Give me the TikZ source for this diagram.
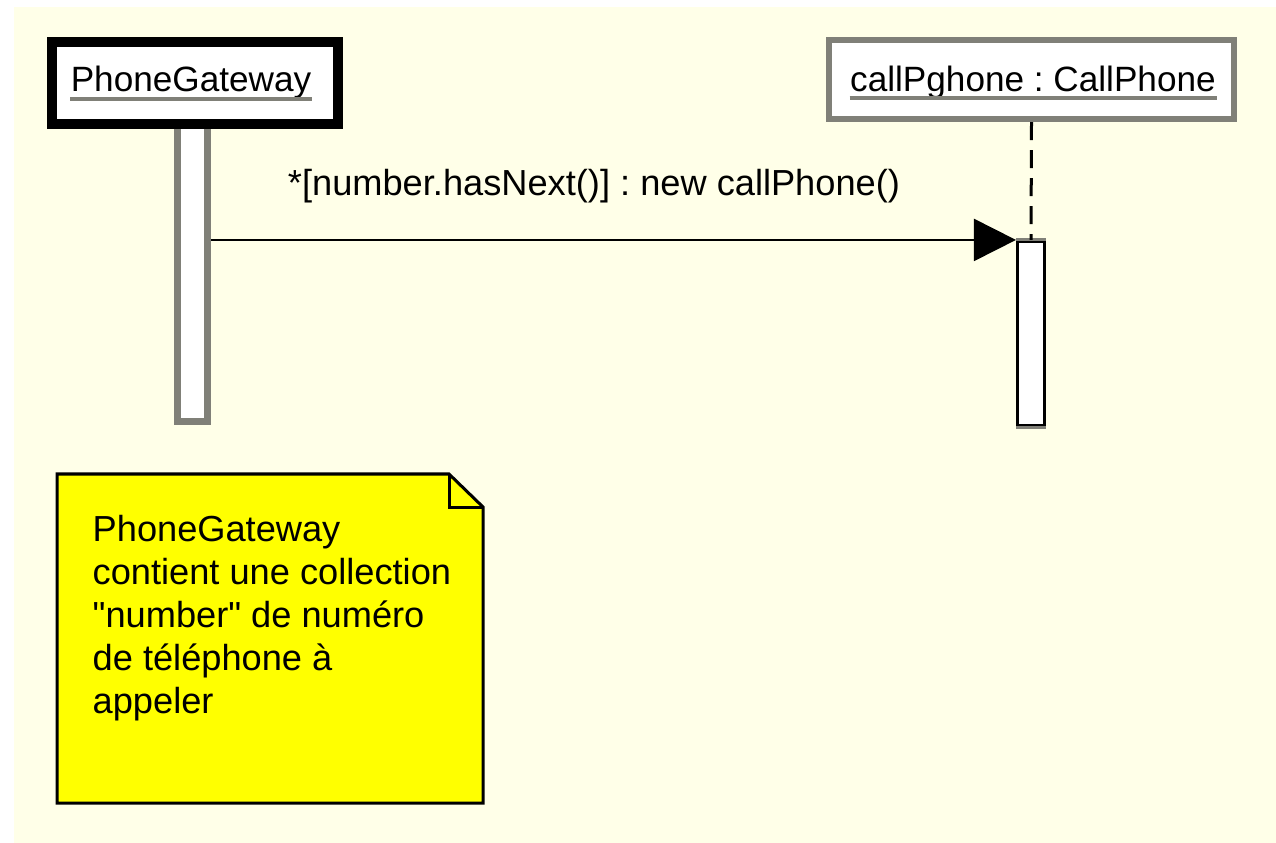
\documentclass[tikz,border=0pt]{standalone}
\usepackage{fontspec}
\setmainfont{Liberation Sans}
\usetikzlibrary{arrows.meta}
\frenchspacing

\definecolor{bgcream}{RGB}{255,255,232}
\definecolor{umlgray}{RGB}{128,128,120}
\definecolor{noteyellow}{RGB}{255,255,0}

\tikzset{
    objbox/.style={draw, fill=white, inner sep=0pt, rectangle},
    actbar/.style={draw, fill=white, inner sep=0pt, rectangle, minimum width=0.3cm},
    objlabel/.style={inner sep=0pt, font=\fontsize{10}{12}\selectfont},
    ulined/.style={draw=umlgray, line width=0.04cm},
    msg/.style={draw, line width=0.02cm, -{Triangle[length=0.42cm,width=0.42cm]}}
}

\begin{document}
\begin{tikzpicture}[x=0.01cm, y=-0.01cm]
    \useasboundingbox (0,0) rectangle (1276,843);
    % the background
    \fill[bgcream] (14,7) rectangle (1276,843);

    % the activation bars (drawn first, the boxes hide their tops)
    \node[actbar, draw=umlgray, line width=0.07cm, minimum height=3.01cm] (gwbar) at (192.5,270.75) {};
    \node[actbar, line width=0.03cm, minimum width=0.27cm, minimum height=1.84cm] (cpbar) at (1031,333.5) {};
    \draw[umlgray, line width=0.03cm] (cpbar.north west) -- (cpbar.north east);
    \draw[umlgray, line width=0.03cm] (cpbar.south west) -- (cpbar.south east);

    % the objects
    \node[objbox, line width=0.1cm, minimum width=2.86cm, minimum height=0.82cm] (gw) at (195,83) {};
    \node[objbox, draw=umlgray, line width=0.06cm, minimum width=4.05cm, minimum height=0.79cm] (cp) at (1031.5,79.5) {};

    % their names, underlined
    \node[objlabel, anchor=base] (gwname) at (191,92) {PhoneGateway};
    \node[objlabel, anchor=base] (cpname) at (1033,92) {callPghone : CallPhone};
    \draw[ulined] ([yshift=-0.07cm]gwname.base west) -- ([yshift=-0.07cm]gwname.base east);
    \draw[ulined] ([yshift=-0.06cm]cpname.base west) -- ([yshift=-0.06cm]cpname.base east);

    % the lifeline
    \draw[line width=0.03cm, dash pattern=on 0.18cm off 0.1cm] (cp.south) -- (cpbar.north);

    % the message
    \draw[msg] (gwbar.east |- cpbar.north) -- (cpbar.north west);
    \node[objlabel, font=\fontsize{10.3}{12}\selectfont, anchor=base] (msglbl) at (594,196) {*[number.hasNext()] : new callPhone()};

    % the note
    \filldraw[fill=noteyellow, line width=0.03cm] (57,474) -- (449,474) -- (483,507) -- (483,803) -- (57,803) -- cycle;
    \draw[line width=0.03cm] (449,474) -- (449,507) -- (483,507);
    \node[anchor=north west, inner sep=0pt, align=left, font=\fontsize{10.3}{12.2}\selectfont] (note) at (92,515)
        {PhoneGateway\\contient une collection\\\textquotedbl number\textquotedbl{} de numéro\\de téléphone à\\appeler};

\end{tikzpicture}
\end{document}
